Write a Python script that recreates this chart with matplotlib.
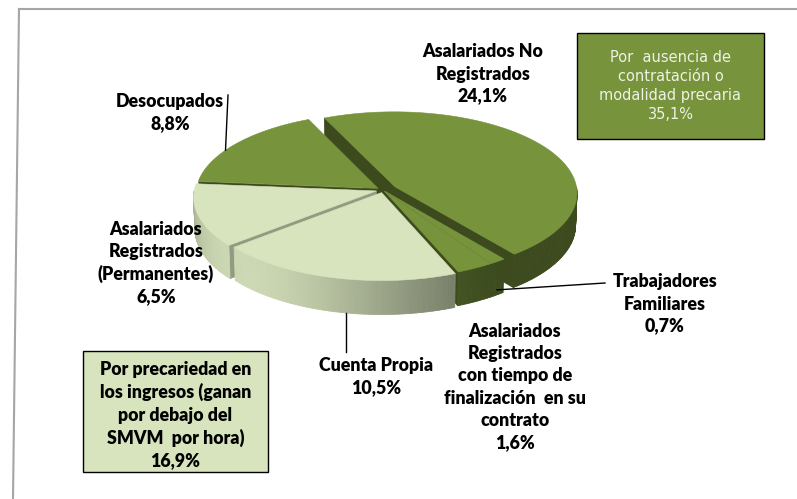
import numpy as np
import matplotlib
matplotlib.use("Agg")
import matplotlib.pyplot as plt
from matplotlib.patches import Polygon, Rectangle
from matplotlib.collections import PolyCollection

# ---------------- data ----------------
categories = ["Asalariados No\nRegistrados", "Desocupados",
              "Asalariados\nRegistrados\n(Permanentes)", "Cuenta Propia",
              "Asalariados\nRegistrados\ncon tiempo de\nfinalización  en su\ncontrato",
              "Trabajadores\nFamiliares"]
values = [24.1, 8.8, 6.5, 10.5, 1.6, 0.7]
value_labels = ["24,1%", "8,8%", "6,5%", "10,5%", "1,6%", "0,7%"]
group_labels = ["Por  ausencia de\ncontratación o\nmodalidad precaria",
                "Por precariedad en\nlos ingresos (ganan\npor debajo del\nSMVM  por hora)"]
group_values = ["35,1%", "16,9%"]

# ---------------- style ----------------
DARK = np.array([0x77, 0x93, 0x3C]) / 255
LIGHT = np.array([0xD7, 0xE4, 0xBD]) / 255
slice_colors = [DARK, DARK, LIGHT, LIGHT, DARK, DARK]
explode = [14, 6, 7, 6, 3, 3]

fig = plt.figure(figsize=(7.97, 4.99), dpi=100)
ax = fig.add_axes([0, 0, 1, 1])
ax.set_xlim(0, 797)
ax.set_ylim(499, 0)
ax.axis("off")

CX, CY, R = 383, 190, 182
SIN_P = 0.445
COS_P = np.sqrt(1 - SIN_P ** 2)
DIST = 12 * R
THICK = 36
START = 308


def proj(x, y, z):
    x = np.asarray(x, float); y = np.asarray(y, float); z = np.asarray(z, float)
    depth = y * COS_P - z * SIN_P
    s = DIST / (DIST + depth)
    return CX + s * x, CY - s * (y * SIN_P + z * COS_P)


def shade(t):
    c = np.maximum(0, np.cos(np.radians(t - 225)))
    return 0.5 + 0.45 * c ** 2


frac = np.array(values) / np.sum(values)
cum = START + 360 * np.concatenate([[0], np.cumsum(frac)])

slices = []
for i in range(len(values)):
    t1, t2 = cum[i], cum[i + 1]
    mid = (t1 + t2) / 2
    ox = explode[i] * np.cos(np.radians(mid))
    oy = explode[i] * np.sin(np.radians(mid))
    slices.append((i, t1, t2, mid, ox, oy))

# sides, far to near
order = sorted(slices, key=lambda s: -np.sin(np.radians(s[3])))
for (i, t1, t2, mid, ox, oy) in order:
    col = slice_colors[i]
    n = max(3, int(abs(t2 - t1)) + 2)
    ts = np.linspace(t1, t2, n)
    rx = ox + R * np.cos(np.radians(ts))
    ry = oy + R * np.sin(np.radians(ts))
    polys, cols = [], []
    rf = col * (0.5 if i != 2 else 0.68)
    if np.cos(np.radians(t1)) > 0:
        xs, ys = proj([ox, rx[0], rx[0], ox], [oy, ry[0], ry[0], oy], [0, 0, -THICK, -THICK])
        polys.append(np.column_stack([xs, ys])); cols.append(rf)
    if np.cos(np.radians(t2)) < 0:
        xs, ys = proj([ox, rx[-1], rx[-1], ox], [oy, ry[-1], ry[-1], oy], [0, 0, -THICK, -THICK])
        polys.append(np.column_stack([xs, ys])); cols.append(rf)
    for k in range(n - 1):
        tm = (ts[k] + ts[k + 1]) / 2
        if np.sin(np.radians(tm)) < 0:
            xs, ys = proj([rx[k], rx[k + 1], rx[k + 1], rx[k]],
                          [ry[k], ry[k + 1], ry[k + 1], ry[k]],
                          [0, 0, -THICK, -THICK])
            polys.append(np.column_stack([xs, ys]))
            cols.append(np.clip(col * shade(tm), 0, 1))
    if polys:
        pc = PolyCollection(polys, facecolors=cols, edgecolors=cols, linewidths=0.6)
        ax.add_collection(pc)

# tops
for (i, t1, t2, mid, ox, oy) in slices:
    n = max(3, int(abs(t2 - t1)) + 2)
    ts = np.linspace(t1, t2, n)
    rx = np.concatenate([[ox], ox + R * np.cos(np.radians(ts))])
    ry = np.concatenate([[oy], oy + R * np.sin(np.radians(ts))])
    xs, ys = proj(rx, ry, np.zeros_like(rx))
    ax.add_patch(Polygon(np.column_stack([xs, ys]), closed=True,
                         facecolor=slice_colors[i], edgecolor=slice_colors[i], lw=0.4))

# ---------------- labels ----------------
LFONT = dict(family=["Lato", "DejaVu Sans"], weight="heavy", fontsize=12.8,
             color="black", ha="center", va="center", linespacing=1.36)
label_pos = [(483, 74), (170, 113), (156, 263), (376, 377), (515, 387), (665, 304)]
for i, (lx, ly) in enumerate(label_pos):
    ax.text(lx, ly, categories[i] + "\n" + value_labels[i], **LFONT)


def rim_point(i, frac_t, z, r=1.0):
    _, t1, t2, mid, ox, oy = slices[i]
    t = t1 + frac_t * (t2 - t1)
    return proj(ox + r * R * np.cos(np.radians(t)), oy + r * R * np.sin(np.radians(t)), z)

# leader lines
x0, y0 = rim_point(1, 0.6, 0)
ax.plot([228, float(x0)], [95, float(y0)], color="black", lw=1)
x0, y0 = rim_point(3, 0.55, -THICK)
ax.plot([float(x0), float(x0)], [float(y0), 352], color="black", lw=1)
x0, y0 = rim_point(5, 0.5, -THICK * 0.85)
ax.plot([float(x0), 605], [float(y0), 283], color="black", lw=1)

# group boxes
ax.add_patch(Rectangle((577, 33), 187, 106, facecolor=DARK, edgecolor="black", lw=1.0))
ax.text(670.5, 86, group_labels[0] + "\n" + group_values[0], family=["DejaVu Sans"],
        fontsize=10.5, color="#EEF2E4", ha="center", va="center", linespacing=1.36)
ax.add_patch(Rectangle((83, 351), 185, 121, facecolor=LIGHT, edgecolor="black", lw=1.0))
ax.text(175.5, 415, group_labels[1] + "\n" + group_values[1], **LFONT)

# frame
ax.plot([19, 797], [9, 9], color="#A6A6A6", lw=1.5)
ax.plot([19, 13], [9, 499], color="#A6A6A6", lw=1.5)

fig.savefig("out.png", dpi=100)
